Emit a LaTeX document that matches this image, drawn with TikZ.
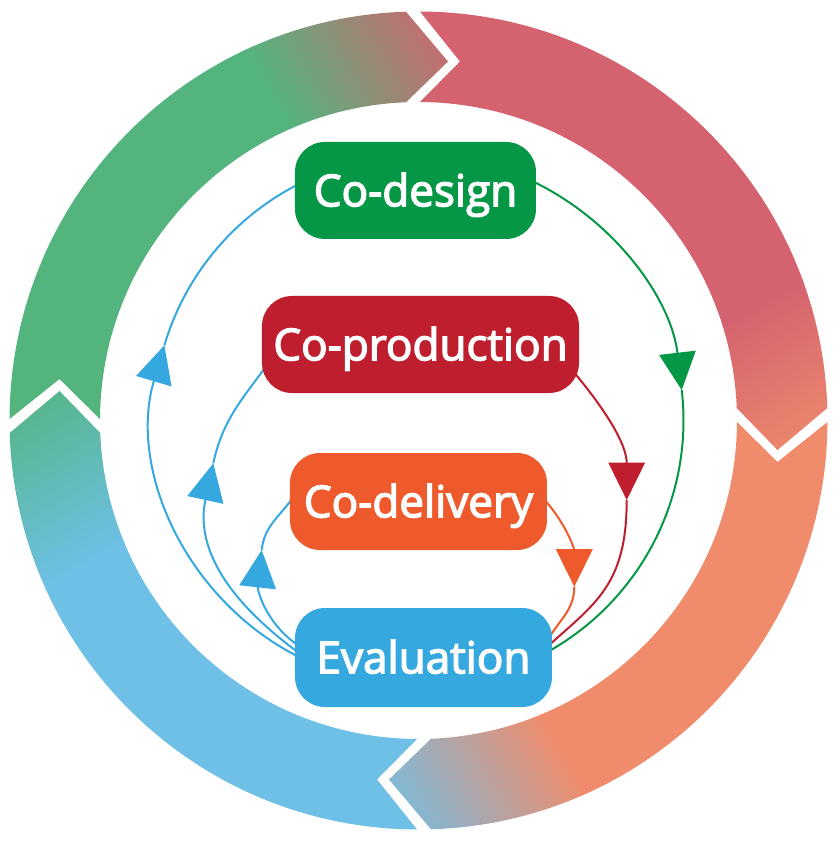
\documentclass[tikz,border=0pt]{standalone}
\usepackage{fontspec}
\setmainfont{Open Sans}
\newfontfamily\boxfont{Open Sans}[FakeBold=3]
\usetikzlibrary{arrows.meta}

\definecolor{ringgreen}{RGB}{83,180,126}
\definecolor{ringred}{RGB}{212,99,111}
\definecolor{ringorange}{RGB}{240,140,108}
\definecolor{ringblue}{RGB}{110,192,230}
\definecolor{cdgreen}{RGB}{5,150,70}
\definecolor{cpred}{RGB}{190,30,45}
\definecolor{cdlorange}{RGB}{238,90,43}
\definecolor{evblue}{RGB}{53,168,224}

% #1 start joint angle, #2 end joint angle, #3 gradient direction,
% #4 own colour, #5 next colour, #6 where the gradient starts
\newcommand\ringpiece[6]{%
  \begin{scope}
    \clip ({#1-0.21}:409) arc[start angle={#1-0.21}, end angle={#2+1.75}, radius=409]
      -- ({#2-4.70}:360.2) -- ({#2+2.25}:318.5)
      arc[start angle={#2+2.25}, end angle={#1-0.27}, radius=318.5]
      -- ({#1-6.59}:361.4) -- cycle;
    \begin{scope}[transform canvas={rotate=#3}]
      \fill[#4] (-600,-600) rectangle ({#6+2},600);
      \shade[left color=#4, right color=#5] (#6,-600) rectangle (232,600);
      \fill[#5] (230,-600) rectangle (600,600);
    \end{scope}
  \end{scope}}

\begin{document}
\begin{tikzpicture}[x=1pt,y=1pt,
  box/.style={rounded corners=30pt, text=white, inner sep=0pt,
    minimum height=97pt, text height=31.5pt, text depth=0pt,
    font=\boxfont\fontsize{44pt}{51pt}\selectfont},
  conn/.style={line width=2pt},
  tip/.style={-{Triangle[length=37.5pt,width=36.5pt]}}]

\useasboundingbox (-418.5,-420.5) rectangle (419.5,420.5);
\fill[white] (-418.5,-420.5) rectangle (419.5,420.5);

% ring
\ringpiece{180}{90}{30}{ringgreen}{ringred}{34}
\ringpiece{90}{0}{-60}{ringred}{ringorange}{70}
\ringpiece{0}{-90}{-150}{ringorange}{ringblue}{40}
\ringpiece{-90}{-180}{120}{ringblue}{ringgreen}{40}

\coordinate (O) at (0,0);

% big loop: Co-design -> Evaluation -> Co-design
\coordinate (g0) at (65:265);
\coordinate (gt) at (6.6:265);
\coordinate (g1) at (-61:265);
\draw[conn, cdgreen, tip] (g0) arc[start angle=65, end angle=6.6, radius=265];
\draw[conn, cdgreen] (gt) arc[start angle=6.6, end angle=-61, radius=265];

\coordinate (b0) at (244:265);
\coordinate (bt) at (163.5:265);
\coordinate (b1) at (116:265);
\draw[conn, evblue, tip] (b0) arc[start angle=244, end angle=163.5, radius=265];
\draw[conn, evblue] (bt) arc[start angle=163.5, end angle=116, radius=265];

% middle loop: Co-production -> Evaluation -> Co-production
\coordinate (r0) at (154,50);
\coordinate (rt) at (208.2,-79.5);
\coordinate (r1) at (129,-226);
\draw[conn, cpred, tip] (r0) to[out=-50, in=90] (rt);
\draw[conn, cpred] (rt) to[out=-90, in=42, out looseness=1.3] (r1);

\coordinate (p0) at (-119.5,-232.5);
\coordinate (pt) at (-205.2,-42.8);
\coordinate (p1) at (-152.2,54.5);
\draw[conn, evblue, tip] (p0) to[out=143.7, in=257.8, out looseness=1.2] (pt);
\draw[conn, evblue] (pt) to[out=77.8, in=233.8] (p1);

% small loop: Co-delivery -> Evaluation -> Co-delivery
\coordinate (o0) at (125,-78);
\coordinate (ot) at (155.8,-166.2);
\coordinate (o1) at (130.6,-217);
\draw[conn, cdlorange, tip] (o0) to[out=-48.4, in=90] (ot);
\draw[conn, cdlorange] (ot) to[out=-90, in=58] (o1);

\coordinate (q0) at (-119.4,-225.6);
\coordinate (qt) at (-156.8,-129.5);
\coordinate (q1) at (-126,-77.8);
\draw[conn, evblue, tip] (q0) to[out=146, in=263.8] (qt);
\draw[conn, evblue] (qt) to[out=83.8, in=234] (q1);

% boxes
\node[box, fill=cdgreen, minimum width=241pt] (cd) at (-3,230) {Co-design};
\node[box, fill=cpred, minimum width=317pt] (cp) at (2,76) {Co-production};
\node[box, fill=cdlorange, minimum width=257pt] (cdl) at (0,-81) {Co-delivery};
\node[box, fill=evblue, minimum width=257pt, minimum height=99pt] (ev) at (5,-237) {Evaluation};

\end{tikzpicture}
\end{document}
